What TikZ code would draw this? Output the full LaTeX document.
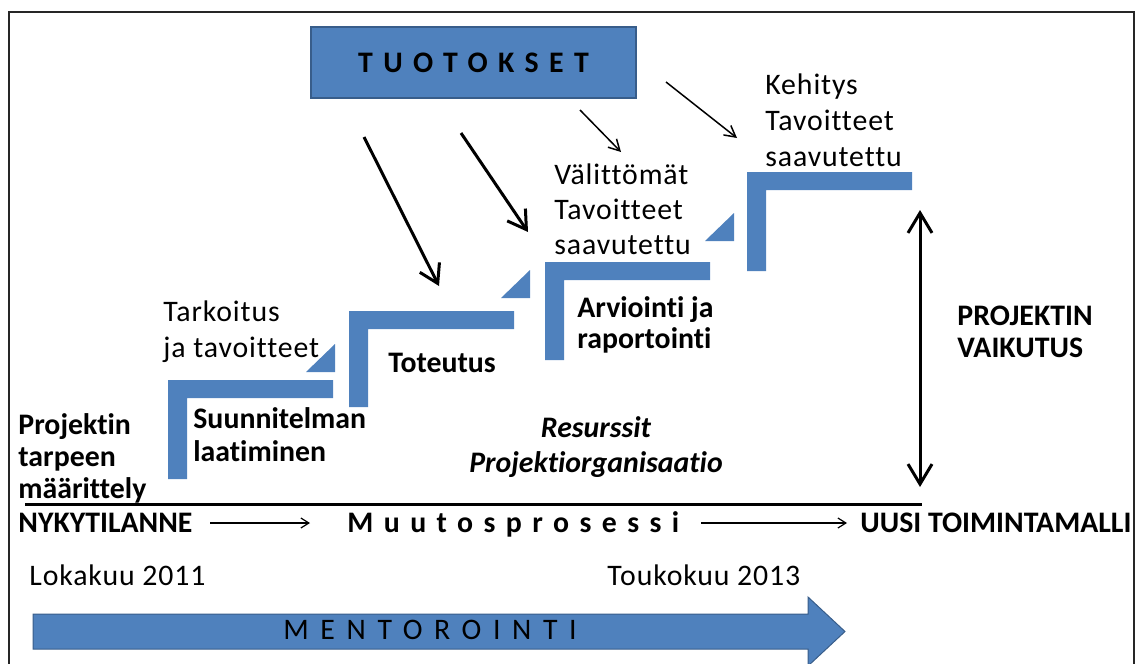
\documentclass[tikz,border=0pt]{standalone}
\usepackage{fontspec}
\setmainfont[Ligatures=NoCommon]{Carlito}
\newfontfamily\widefont[LetterSpace=35,Ligatures=NoCommon]{Carlito}
\newfontfamily\widerfont[LetterSpace=39,Ligatures=NoCommon]{Carlito}
\usetikzlibrary{arrows.meta,positioning}
\definecolor{stepblue}{HTML}{4F81BD}
\definecolor{stepedge}{HTML}{385D8A}

\tikzset{
  lbl/.style={anchor=base west, align=left, inner sep=0pt,
              font=\fontsize{14.9}{18}\selectfont\addfontfeature{LetterSpace=3}},
  blbl/.style={anchor=base west, align=left, inner sep=0pt,
               font=\fontsize{14.9}{16.5}\selectfont\bfseries},
  stepbar/.style={fill=stepblue, draw=none},
  bigarr/.style={line width=1.5pt, -{Straight Barb[length=9pt,width=11pt]}},
  smallarr/.style={line width=0.75pt, -{Straight Barb[length=5.5pt,width=6pt]}},
  linearr/.style={line width=0.6pt, -{Straight Barb[length=4pt,width=5pt]}}
}

\begin{document}
\begin{tikzpicture}[x=0.5pt, y=-0.5pt]
  % coordinates are in pixels of the 1146 x 664 frame
  \useasboundingbox (0,0) rectangle (1146,664);
  \clip (0,0) rectangle (1146,664);

  % ---- frame ----
  \draw[line width=1pt, black!85] (9,690) -- (9,12) -- (1134,12) -- (1134,690);

  % ---- TUOTOKSET box ----
  \node[fill=stepblue, draw=stepedge, line width=0.6pt, minimum width=162.5pt,
        minimum height=35.5pt, inner sep=0pt,
        font=\fontsize{14.9}{16}\selectfont\widefont\bfseries] (tuot) at (473.5,62.5) {TUOTOKSET};

  % ---- steps (L-shaped bars): left/top/right/bottom ----
  \foreach \x/\y/\r/\b in {168/380/333/479, 349/311/514/407, 545/262/710/360, 747/172/912/271} {
    \fill[stepbar] (\x,\y) -- (\r,\y) -- (\r,\y+18) -- (\x+19,\y+18) -- (\x+19,\b) -- (\x,\b) -- cycle;
  }
  % ---- small triangles above the steps ----
  \foreach \x/\y in {335/372, 530/298, 734/241} {
    \fill[stepbar] (\x-29,\y) -- (\x,\y) -- (\x,\y-28) -- cycle;
  }

  % ---- baseline ----
  \draw[line width=1.5pt] (25,504) -- (922,504);

  % ---- MENTOROINTI arrow ----
  \fill[stepblue, draw=stepedge, line width=0.5pt]
    (33,614) -- (808,614) -- (808,597) -- (845,631.5) -- (808,666) -- (808,649) -- (33,649) -- cycle;
  \node[blbl, font=\fontsize{14.9}{16}\selectfont\widerfont] (mento) at (283,639) {MENTOROINTI};

  % ---- labels (placed at the baseline of their last line) ----
  \node[lbl] (tark) at (163,357) {Tarkoitus\\ja tavoitteet};
  \node[blbl, font=\fontsize{14.9}{16}\selectfont\bfseries] (proj) at (18,498) {Projektin\\tarpeen\\määrittely};
  \node[blbl] (suun) at (193,461) {Suunnitelman\\laatiminen};
  \node[blbl] (tote) at (388,372) {Toteutus};
  \node[blbl, font=\fontsize{14.9}{15.5}\selectfont\bfseries] (arvi) at (577,348) {Arviointi ja\\raportointi};
  \node[lbl, font=\fontsize{14.9}{17.5}\selectfont\addfontfeature{LetterSpace=3}] (valit) at (554,254) {Välittömät\\Tavoitteet\\saavutettu};
  \node[lbl] (kehit) at (765,166) {Kehitys\\Tavoitteet\\saavutettu};
  \node[blbl, font=\fontsize{14.9}{16}\selectfont\bfseries] (vaik) at (957,357) {PROJEKTIN\\VAIKUTUS};
  \node[blbl, anchor=base, align=center, font=\fontsize{14.9}{17.5}\selectfont\bfseries\itshape] (resu) at (596,472) {Resurssit\\Projektiorganisaatio};

  \node[blbl] (nyky) at (18,532) {NYKYTILANNE};
  \node[blbl, font=\fontsize{14.9}{16}\selectfont\widefont\bfseries] (muut) at (347,532) {Muutosprosessi};
  \node[blbl] (uusi) at (860,532) {UUSI TOIMINTAMALLI};
  \node[lbl] (loka) at (29,585) {Lokakuu 2011};
  \node[lbl] (touk) at (607,585) {Toukokuu 2013};

  % ---- arrows ----
  \coordinate (a1s) at (364,137);  \coordinate (a1e) at (439,286);
  \coordinate (a2s) at (461,133);  \coordinate (a2e) at (528,232);
  \coordinate (a3s) at (580,110);  \coordinate (a3e) at (621,152);
  \coordinate (a4s) at (666,82);   \coordinate (a4e) at (737,138);
  \draw[bigarr] (a1s) -- (a1e);
  \draw[bigarr] (a2s) -- (a2e);
  \draw[smallarr] (a3s) -- (a3e);
  \draw[smallarr] (a4s) -- (a4e);

  \coordinate (vtop) at (920,210);  \coordinate (vbot) at (920,487);
  \draw[line width=1.5pt, {Straight Barb[length=10pt,width=12pt]}-{Straight Barb[length=10pt,width=12pt]}] (vbot) -- (vtop);

  \coordinate (h1s) at (210,523);  \coordinate (h1e) at (310,523);
  \coordinate (h2s) at (701,523);  \coordinate (h2e) at (847,523);
  \draw[linearr] (h1s) -- (h1e);
  \draw[linearr] (h2s) -- (h2e);
\end{tikzpicture}
\end{document}
